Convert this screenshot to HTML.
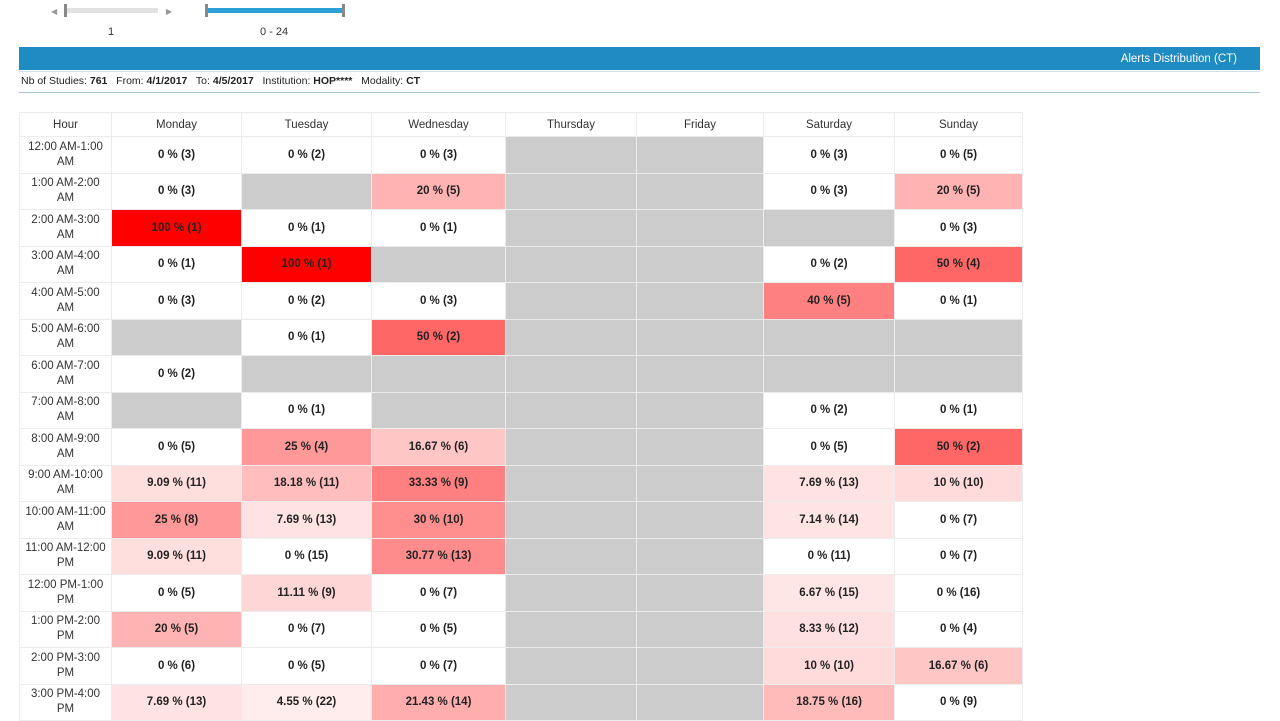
<!DOCTYPE html>
<html><head><meta charset="utf-8"><style>
body{margin:0;width:1280px;height:720px;overflow:hidden;background:#fff;font-family:"Liberation Sans",sans-serif;color:#222;position:relative}
.a{position:absolute}
table{position:absolute;left:19px;top:112px;border-collapse:collapse;table-layout:fixed}
td{border:1px solid #ececec;text-align:center;font-size:11.5px;font-weight:bold;height:35.5px;padding:0}
td.h{font-weight:normal;font-size:11.5px;line-height:15px;color:#333}
tr.hd td{height:22px;padding-top:1px;font-weight:normal;font-size:11.5px;color:#333}
.g{background:#cccccc}
</style></head><body>
<div class="a" style="left:51px;top:7px;font-size:8px;color:#999">&#9664;</div>
<div class="a" style="left:166px;top:7px;font-size:8px;color:#999">&#9654;</div>
<div class="a" style="left:65px;top:8px;width:93px;height:5px;background:#e2e2e2"></div>
<div class="a" style="left:64px;top:4px;width:3px;height:13px;background:#888"></div>
<div class="a" style="left:206px;top:8px;width:137px;height:5px;background:#2a9fd8"></div>
<div class="a" style="left:205px;top:4px;width:3px;height:13px;background:#888"></div>
<div class="a" style="left:342px;top:4px;width:3px;height:13px;background:#888"></div>
<div class="a" style="left:108px;top:26px;font-size:11px;color:#333">1</div>
<div class="a" style="left:260px;top:26px;font-size:11px;color:#333">0 - 24</div>
<div class="a" style="left:19px;top:47px;width:1241px;height:23px;background:#1e8bc3"></div>
<div class="a" style="left:1000px;top:53px;width:237px;text-align:right;font-size:11.5px;color:#fff">Alerts Distribution (CT)</div>
<div class="a" style="left:19px;top:71px;width:1241px;height:1px;background:#cfe0e6"></div>
<div class="a" style="left:21px;top:75px;font-size:10.5px;color:#222;white-space:nowrap">Nb of Studies: <b>761</b> &nbsp; From: <b>4/1/2017</b> &nbsp; To: <b>4/5/2017</b> &nbsp; Institution: <b>HOP****</b> &nbsp; Modality: <b>CT</b></div>
<div class="a" style="left:19px;top:92px;width:1241px;height:1px;background:#a9c9d2"></div>
<table>
<colgroup><col style="width:92px"><col style="width:130px"><col style="width:130px"><col style="width:134px"><col style="width:131px"><col style="width:127px"><col style="width:131px"><col style="width:128px"></colgroup>
<tr class="hd"><td>Hour</td><td>Monday</td><td>Tuesday</td><td>Wednesday</td><td>Thursday</td><td>Friday</td><td>Saturday</td><td>Sunday</td></tr>
<tr><td class="h">12:00 AM-1:00<br>AM</td><td>0 % (3)</td><td>0 % (2)</td><td>0 % (3)</td><td class="g"></td><td class="g"></td><td>0 % (3)</td><td>0 % (5)</td></tr>
<tr><td class="h">1:00 AM-2:00<br>AM</td><td>0 % (3)</td><td class="g"></td><td style="background:#ffb3b3">20 % (5)</td><td class="g"></td><td class="g"></td><td>0 % (3)</td><td style="background:#ffb3b3">20 % (5)</td></tr>
<tr><td class="h">2:00 AM-3:00<br>AM</td><td style="background:#ff0000">100 % (1)</td><td>0 % (1)</td><td>0 % (1)</td><td class="g"></td><td class="g"></td><td class="g"></td><td>0 % (3)</td></tr>
<tr><td class="h">3:00 AM-4:00<br>AM</td><td>0 % (1)</td><td style="background:#ff0000">100 % (1)</td><td class="g"></td><td class="g"></td><td class="g"></td><td>0 % (2)</td><td style="background:#ff6666">50 % (4)</td></tr>
<tr><td class="h">4:00 AM-5:00<br>AM</td><td>0 % (3)</td><td>0 % (2)</td><td>0 % (3)</td><td class="g"></td><td class="g"></td><td style="background:#ff8080">40 % (5)</td><td>0 % (1)</td></tr>
<tr><td class="h">5:00 AM-6:00<br>AM</td><td class="g"></td><td>0 % (1)</td><td style="background:#ff6666">50 % (2)</td><td class="g"></td><td class="g"></td><td class="g"></td><td class="g"></td></tr>
<tr><td class="h">6:00 AM-7:00<br>AM</td><td>0 % (2)</td><td class="g"></td><td class="g"></td><td class="g"></td><td class="g"></td><td class="g"></td><td class="g"></td></tr>
<tr><td class="h">7:00 AM-8:00<br>AM</td><td class="g"></td><td>0 % (1)</td><td class="g"></td><td class="g"></td><td class="g"></td><td>0 % (2)</td><td>0 % (1)</td></tr>
<tr><td class="h">8:00 AM-9:00<br>AM</td><td>0 % (5)</td><td style="background:#ff9999">25 % (4)</td><td style="background:#ffc6c6">16.67 % (6)</td><td class="g"></td><td class="g"></td><td>0 % (5)</td><td style="background:#ff6666">50 % (2)</td></tr>
<tr><td class="h">9:00 AM-10:00<br>AM</td><td style="background:#ffdede">9.09 % (11)</td><td style="background:#ffbdbd">18.18 % (11)</td><td style="background:#ff8080">33.33 % (9)</td><td class="g"></td><td class="g"></td><td style="background:#ffe2e2">7.69 % (13)</td><td style="background:#ffdbdb">10 % (10)</td></tr>
<tr><td class="h">10:00 AM-11:00<br>AM</td><td style="background:#ff9999">25 % (8)</td><td style="background:#ffe2e2">7.69 % (13)</td><td style="background:#ff8f8f">30 % (10)</td><td class="g"></td><td class="g"></td><td style="background:#ffe4e4">7.14 % (14)</td><td>0 % (7)</td></tr>
<tr><td class="h">11:00 AM-12:00<br>PM</td><td style="background:#ffdede">9.09 % (11)</td><td>0 % (15)</td><td style="background:#ff8c8c">30.77 % (13)</td><td class="g"></td><td class="g"></td><td>0 % (11)</td><td>0 % (7)</td></tr>
<tr><td class="h">12:00 PM-1:00<br>PM</td><td>0 % (5)</td><td style="background:#ffd6d6">11.11 % (9)</td><td>0 % (7)</td><td class="g"></td><td class="g"></td><td style="background:#ffe6e6">6.67 % (15)</td><td>0 % (16)</td></tr>
<tr><td class="h">1:00 PM-2:00<br>PM</td><td style="background:#ffb3b3">20 % (5)</td><td>0 % (7)</td><td>0 % (5)</td><td class="g"></td><td class="g"></td><td style="background:#ffe0e0">8.33 % (12)</td><td>0 % (4)</td></tr>
<tr><td class="h">2:00 PM-3:00<br>PM</td><td>0 % (6)</td><td>0 % (5)</td><td>0 % (7)</td><td class="g"></td><td class="g"></td><td style="background:#ffdbdb">10 % (10)</td><td style="background:#ffc6c6">16.67 % (6)</td></tr>
<tr><td class="h">3:00 PM-4:00<br>PM</td><td style="background:#ffe2e2">7.69 % (13)</td><td style="background:#ffeded">4.55 % (22)</td><td style="background:#ffadad">21.43 % (14)</td><td class="g"></td><td class="g"></td><td style="background:#ffbaba">18.75 % (16)</td><td>0 % (9)</td></tr>
</table>
</body></html>
